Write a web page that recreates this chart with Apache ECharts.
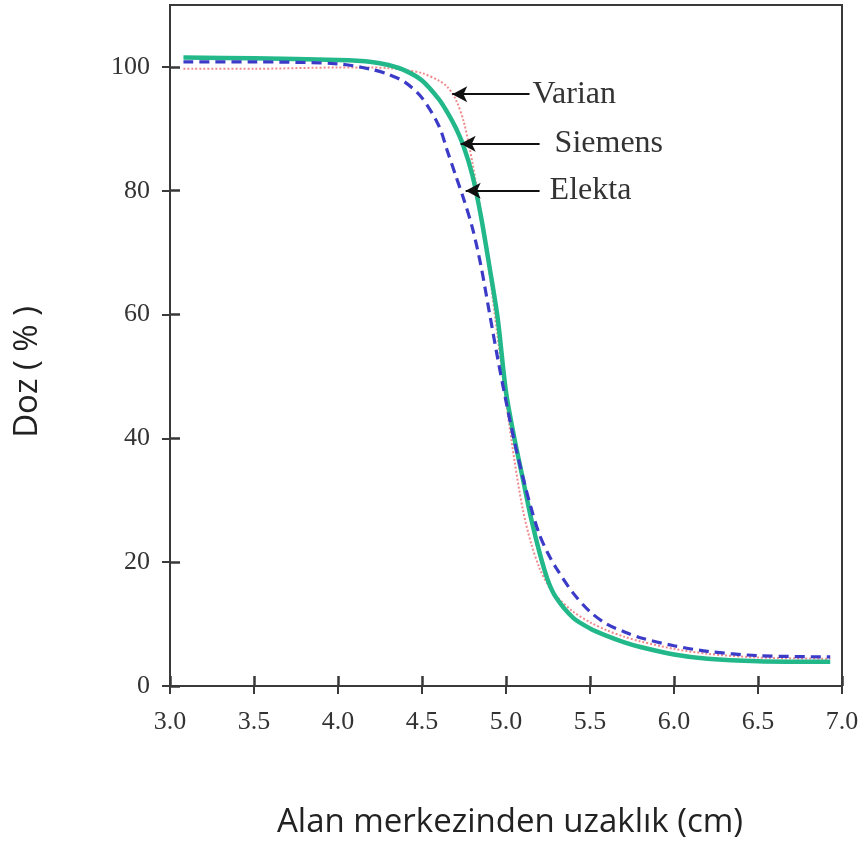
<!DOCTYPE html>
<html>
<head>
<meta charset="utf-8">
<script src="https://cdn.jsdelivr.net/npm/echarts@6/dist/echarts.min.js"></script>
<style>
	html, body { margin: 0; padding: 0; background: #fff; }
	#chart { width: 864px; height: 844px; }
</style>
</head>
<body>
<div id="chart"></div>
<script>
// distance from field centre (cm)
const distance = [3.08, 3.5, 4.0, 4.2, 4.3, 4.4, 4.5, 4.6, 4.65, 4.7, 4.75, 4.8, 4.85, 4.9, 4.95, 5.0, 5.05, 5.1, 5.15, 5.2, 5.25, 5.3, 5.4, 5.5, 5.6, 5.7, 5.8, 6.0, 6.2, 6.5, 6.93];
// dose (%)
const varian = [99.7, 99.7, 99.9, 99.9, 99.8, 99.5, 99.0, 97.8, 96.8, 94.8, 91.0, 84.5, 76.5, 67.0, 56.5, 46.0, 36.5, 28.5, 23.0, 19.0, 16.3, 14.5, 12.0, 10.3, 9.0, 8.0, 7.2, 6.0, 5.2, 4.6, 4.4];
const siemens = [101.5, 101.4, 101.1, 100.8, 100.3, 99.4, 97.8, 94.8, 92.7, 90.2, 87.0, 82.5, 76.0, 68.0, 59.5, 47.5, 40.0, 33.5, 27.0, 21.5, 17.0, 14.2, 11.0, 9.3, 8.1, 7.1, 6.3, 5.1, 4.4, 4.0, 3.9];
const elekta = [100.8, 100.8, 100.5, 99.6, 98.8, 97.5, 95.0, 90.5, 86.5, 82.5, 78.5, 74.0, 68.0, 60.5, 53.0, 46.0, 39.5, 33.8, 28.7, 24.4, 21.4, 19.0, 15.0, 12.0, 10.0, 8.8, 7.8, 6.5, 5.6, 4.9, 4.7];
const yTicks = [0, 20, 40, 60, 80, 100];

// arrow annotations: [name, tip x, tail x, dose, label gap]
const notes = [
	['Varian', 4.68, 5.14, 95.6, 3],
	['Siemens', 4.73, 5.2, 87.6, 15],
	['Elekta', 4.76, 5.2, 80.0, 10]
];

const pairs = (ys) => distance.map((x, i) => [x, ys[i]]);

const chart = echarts.init(document.getElementById('chart'));
const axisCol = '#3a3a3a';
const innerCol = '#383838';
const serif = 'Liberation Serif';

chart.setOption({
	animation: false,
	backgroundColor: '#fff',
	grid: {
		left: 170, right: 22, top: 5, bottom: 156,
		show: true, borderColor: axisCol, borderWidth: 2
	},
	graphic: [{
		type: 'text',
		x: 28, y: 372,
		rotation: Math.PI / 2,
		style: {
			text: 'Doz ( % )',
			font: '33px "Open Sans"',
			fill: '#222',
			align: 'center',
			verticalAlign: 'middle'
		}
	}],
	xAxis: [
		{
			type: 'value', min: 3, max: 7, interval: 0.5,
			name: 'Alan merkezinden uzaklık (cm)',
			nameLocation: 'middle', nameGap: 120,
			nameTextStyle: { fontFamily: 'Open Sans', fontSize: 33, color: '#222', padding: [0, 0, 0, 8] },
			axisLine: { show: true, onZero: false, lineStyle: { color: axisCol, width: 2 } },
			axisTick: { show: true, inside: false, length: 8, lineStyle: { color: axisCol, width: 2 } },
			axisLabel: {
				margin: 23, fontFamily: serif, fontSize: 26, color: '#333',
				formatter: (v) => v.toFixed(1)
			},
			splitLine: { show: false }
		},
		{
			// second copy of the axis, only for the inner half of the ticks
			type: 'value', min: 3, max: 7, interval: 0.5, position: 'bottom', offset: 0,
			axisLine: { show: true, onZero: false, lineStyle: { color: innerCol, width: 1 } },
			axisTick: { show: true, inside: true, length: 10, lineStyle: { color: innerCol, width: 2.5 } },
			axisLabel: { show: false },
			splitLine: { show: false }
		}
	],
	yAxis: [
		{
			type: 'value', min: 0, max: 110, interval: 20,
			axisLine: { show: true, onZero: false, lineStyle: { color: axisCol, width: 2 } },
			axisTick: { show: true, inside: false, length: 8, customValues: yTicks, lineStyle: { color: axisCol, width: 2 } },
			axisLabel: { margin: 20, fontFamily: serif, fontSize: 26, color: '#333', customValues: yTicks },
			splitLine: { show: false }
		},
		{
			type: 'value', min: 0, max: 110, interval: 20, position: 'left', offset: 0,
			axisLine: { show: true, onZero: false, lineStyle: { color: innerCol, width: 1 } },
			axisTick: { show: true, inside: true, length: 10, customValues: yTicks, lineStyle: { color: innerCol, width: 2.5 } },
			axisLabel: { show: false },
			splitLine: { show: false }
		}
	],
	series: [
		{
			name: 'Varian', type: 'line', smooth: 0.3, showSymbol: false,
			xAxisIndex: 1, yAxisIndex: 1,
			data: pairs(varian),
			lineStyle: { color: '#f08a8a', width: 2, type: 'dotted' },
			itemStyle: { color: '#f08a8a' },
			z: 2
		},
		{
			name: 'Siemens', type: 'line', smooth: 0.3, showSymbol: false,
			data: pairs(siemens),
			lineStyle: { color: '#22b88a', width: 4.5 },
			itemStyle: { color: '#22b88a' },
			z: 3
		},
		{
			name: 'Elekta', type: 'line', smooth: 0.3, showSymbol: false,
			data: pairs(elekta),
			lineStyle: { color: '#3b3bc8', width: 3.2, type: [10, 6] },
			itemStyle: { color: '#3b3bc8' },
			z: 4,
			markLine: {
				silent: true,
				symbol: ['arrow', 'none'],
				symbolSize: [12, 15],
				lineStyle: { color: '#111', width: 2, type: 'solid' },
				label: {
					show: true, position: 'end',
					fontFamily: serif, fontSize: 32, color: '#333',
					formatter: (p) => p.name
				},
				data: notes.map((n) => [
					{ name: n[0], coord: [n[1], n[3]], label: { distance: n[4] } },
					{ coord: [n[2], n[3]] }
				])
			}
		}
	]
});
</script>
</body>
</html>
